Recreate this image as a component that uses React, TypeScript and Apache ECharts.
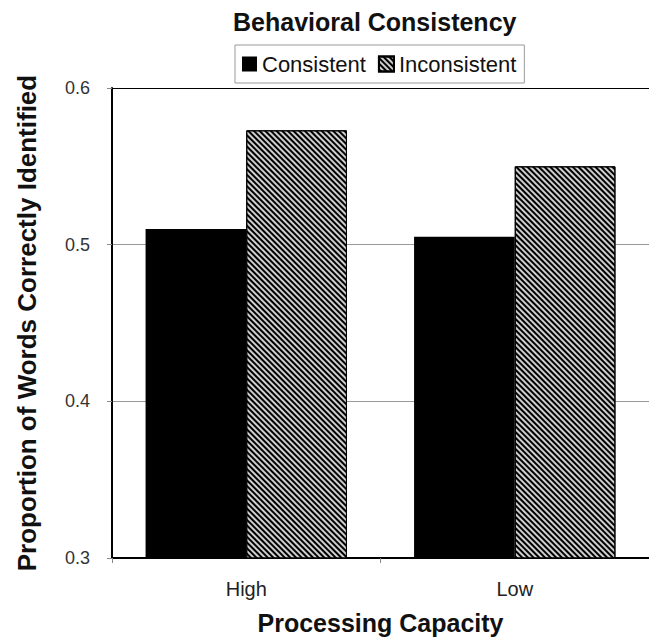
import React, { useEffect, useRef } from "react";
import * as echarts from "echarts";

const categories = ["High", "Low"];
const consistentValues = [0.51, 0.505];
const inconsistentValues = [0.573, 0.55];
const yTicks = [0.3, 0.4, 0.5, 0.6];

const FONT = "'Liberation Sans', Arial, sans-serif";

export default function App() {
  const ref = useRef<HTMLDivElement>(null);
  useEffect(() => {
    document.body.style.margin = "0";
    const chart = echarts.init(ref.current!, null, { renderer: "svg" });
    chart.setOption({
      animation: false,
      backgroundColor: "#fff",
      title: {
        text: "Behavioral Consistency",
        left: 233,
        top: 9,
        padding: 0,
        textStyle: { fontFamily: FONT, fontSize: 25, fontWeight: "bold", color: "#111" },
      },
      legend: {
        top: 45,
        left: 235,
        icon: "rect",
        itemWidth: 15,
        itemHeight: 15,
        itemGap: 12,
        borderColor: "#999",
        borderWidth: 1,
        padding: [8, 8, 8, 7],
        textStyle: { fontFamily: FONT, fontSize: 22, color: "#111" },
        data: ["Consistent", "Inconsistent"],
      },
      grid: { left: 112, top: 88, bottom: 77, right: -4, containLabel: false },
      xAxis: {
        type: "category",
        data: categories,
        name: "Processing Capacity",
        nameLocation: "middle",
        nameGap: 52,
        nameTextStyle: { fontFamily: FONT, fontSize: 25, fontWeight: "bold", color: "#111" },
        axisLine: { lineStyle: { color: "#000", width: 2 } },
        axisTick: { show: true, length: 5, lineStyle: { color: "#888" } },
        axisLabel: { fontFamily: FONT, fontSize: 20, color: "#222", margin: 21 },
      },
      yAxis: {
        type: "value",
        min: 0.3,
        max: 0.6,
        interval: 0.1,
        name: "Proportion of Words Correctly Identified",
        nameLocation: "middle",
        nameGap: 72,
        nameTextStyle: { fontFamily: FONT, fontSize: 26, fontWeight: "bold", color: "#111" },
        axisLine: { show: true, lineStyle: { color: "#000", width: 2 } },
        axisTick: { show: true, length: 5, lineStyle: { color: "#888" } },
        axisLabel: {
          fontFamily: FONT,
          fontSize: 18,
          color: "#333",
          margin: 22,
          formatter: (v: number) => (yTicks.some((t) => Math.abs(t - v) < 1e-9) ? v.toFixed(1) : ""),
        },
        splitLine: { show: true, lineStyle: { color: ["#000", "#999", "#999", "#000"], width: 1 } },
      },
      series: [
        {
          name: "Consistent",
          type: "bar",
          data: consistentValues,
          barGap: "0%",
          barCategoryGap: "25%",
          itemStyle: { color: "#000" },
        },
        {
          name: "Inconsistent",
          type: "bar",
          data: inconsistentValues,
          barGap: "0%",
          barCategoryGap: "25%",
          itemStyle: {
            color: "#cfcfcf",
            borderColor: "#000",
            borderWidth: 1,
            decal: {
              symbol: "rect",
              color: "#000",
              dashArrayX: [1, 0],
              dashArrayY: [1.6, 1.6],
              rotation: Math.PI / 4,
            },
          },
        },
      ],
    });
    return () => chart.dispose();
  }, []);
  return <div ref={ref} style={{ width: 649, height: 640 }} />;
}
